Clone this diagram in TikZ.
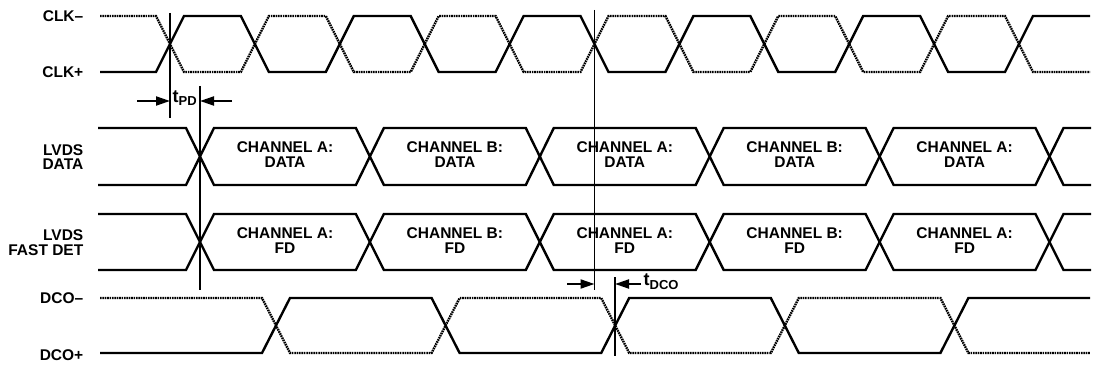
\documentclass[tikz,border=0pt]{standalone}
\usepackage{fontspec}
\setmainfont{Liberation Sans}
\usetikzlibrary{arrows.meta}
\begin{document}
\begin{tikzpicture}[x=1pt,y=-1pt,
  wave/.style={line width=2.4pt, line join=miter},
  dotwave/.style={line width=2.4pt, dash pattern=on 1.6pt off 0.8pt},
  marker/.style={line width=1.2pt},
  dim/.style={line width=2pt, -{Triangle[length=14pt,width=9pt]}},
  lab/.style={font=\bfseries\fontsize{15.5}{14.5}\selectfont, inner sep=0pt},
  chlab/.style={font=\bfseries\fontsize{15.5}{14.5}\selectfont, inner sep=0pt},
  sub/.style={font=\bfseries\fontsize{18}{18}\selectfont, inner sep=0pt},
  ]
\useasboundingbox (0,0) rectangle (1094,366);

% ---------- labels ----------
\node[lab, anchor=east] (lclkm) at (83.5,16) {CLK–};
\node[lab, anchor=east] (lclkp) at (83.5,72) {CLK+};
\node[lab, anchor=east, align=right] (ldata) at (83.5,157) {LVDS\\DATA};
\node[lab, anchor=east, align=right] (lfd) at (83.5,242.5) {LVDS\\FAST DET};
\node[lab, anchor=east] (ldcom) at (83.5,298) {DCO–};
\node[lab, anchor=east] (ldcop) at (83.5,355) {DCO+};

% ---------- CLK ----------
\draw[wave] (100,72)
  \foreach \k [evaluate=\k as \c using {170+\k*84.9},
               evaluate=\k as \yf using {72-56*mod(\k,2)},
               evaluate=\k as \yt using {16+56*mod(\k,2)}]
  in {0,...,10} { -- (\c-14,\yf) -- (\c+14,\yt) } -- (1090,16);
\draw[dotwave] (100,16)
  \foreach \k [evaluate=\k as \c using {170+\k*84.9},
               evaluate=\k as \yf using {16+56*mod(\k,2)},
               evaluate=\k as \yt using {72-56*mod(\k,2)}]
  in {0,...,10} { -- (\c-14,\yf) -- (\c+14,\yt) } -- (1090,72);

% ---------- LVDS DATA ----------
\draw[wave] (98,128)
  \foreach \k [evaluate=\k as \c using {200+\k*169.9},
               evaluate=\k as \yf using {128+57*mod(\k,2)},
               evaluate=\k as \yt using {185-57*mod(\k,2)}]
  in {0,...,5} { -- (\c-14,\yf) -- (\c+14,\yt) } -- (1091,128);
\draw[wave] (98,185)
  \foreach \k [evaluate=\k as \c using {200+\k*169.9},
               evaluate=\k as \yf using {185-57*mod(\k,2)},
               evaluate=\k as \yt using {128+57*mod(\k,2)}]
  in {0,...,5} { -- (\c-14,\yf) -- (\c+14,\yt) } -- (1091,185);

% ---------- LVDS FAST DET ----------
\draw[wave] (98,214)
  \foreach \k [evaluate=\k as \c using {200+\k*169.9},
               evaluate=\k as \yf using {214+56*mod(\k,2)},
               evaluate=\k as \yt using {270-56*mod(\k,2)}]
  in {0,...,5} { -- (\c-14,\yf) -- (\c+14,\yt) } -- (1091,214);
\draw[wave] (98,270)
  \foreach \k [evaluate=\k as \c using {200+\k*169.9},
               evaluate=\k as \yf using {270-56*mod(\k,2)},
               evaluate=\k as \yt using {214+56*mod(\k,2)}]
  in {0,...,5} { -- (\c-14,\yf) -- (\c+14,\yt) } -- (1091,270);

% ---------- channel labels ----------
\foreach \i/\ch in {0/A,1/B,2/A,3/B,4/A}{
  \node[chlab, align=center] (d\i) at (285+\i*169.9,154.5) {CHANNEL \ch:\\DATA};
  \node[chlab, align=center] (f\i) at (285+\i*169.9,240.5) {CHANNEL \ch:\\FD};
}

% ---------- DCO ----------
\draw[wave] (100,353)
  \foreach \k [evaluate=\k as \c using {276+\k*169.6},
               evaluate=\k as \yf using {353-55*mod(\k,2)},
               evaluate=\k as \yt using {298+55*mod(\k,2)}]
  in {0,...,4} { -- (\c-14,\yf) -- (\c+14,\yt) } -- (1090,298);
\draw[dotwave] (100,298)
  \foreach \k [evaluate=\k as \c using {276+\k*169.6},
               evaluate=\k as \yf using {298+55*mod(\k,2)},
               evaluate=\k as \yt using {353-55*mod(\k,2)}]
  in {0,...,4} { -- (\c-14,\yf) -- (\c+14,\yt) } -- (1090,353);

% ---------- timing markers ----------
\coordinate (pd1t) at (170,13);  \coordinate (pd1b) at (170,118);
\coordinate (pd2t) at (200,86);  \coordinate (pd2b) at (200,290);
\coordinate (dc1t) at (594.5,10); \coordinate (dc1b) at (594.5,290);
\coordinate (dc2t) at (615,277); \coordinate (dc2b) at (615,356);
\draw[marker] (pd1t) -- (pd1b);
\draw[marker] (pd2t) -- (pd2b);
\draw[marker] (dc1t) -- (dc1b);
\draw[marker] (dc2t) -- (dc2b);

% tPD
\coordinate (pdl) at (137,101);
\coordinate (pdr) at (232,101);
\draw[dim] (pdl) -- (pd1t |- pdl);
\draw[dim] (pdr) -- (pd2t |- pdr);
\node[sub, anchor=base west] (tpd) at (172.5,103) {t\raisebox{-3pt}{\fontsize{13}{13}\selectfont PD}};

% tDCO
\coordinate (dcl) at (567,284);
\coordinate (dcr) at (641,284);
\draw[dim] (dcl) -- (dc1t |- dcl);
\draw[dim] (dcr) -- (dc2t |- dcr);
\node[sub, anchor=base west] (tdco) at (643.5,285.5) {t\raisebox{-3.5pt}{\fontsize{13}{13}\selectfont DCO}};
\end{tikzpicture}
\end{document}
